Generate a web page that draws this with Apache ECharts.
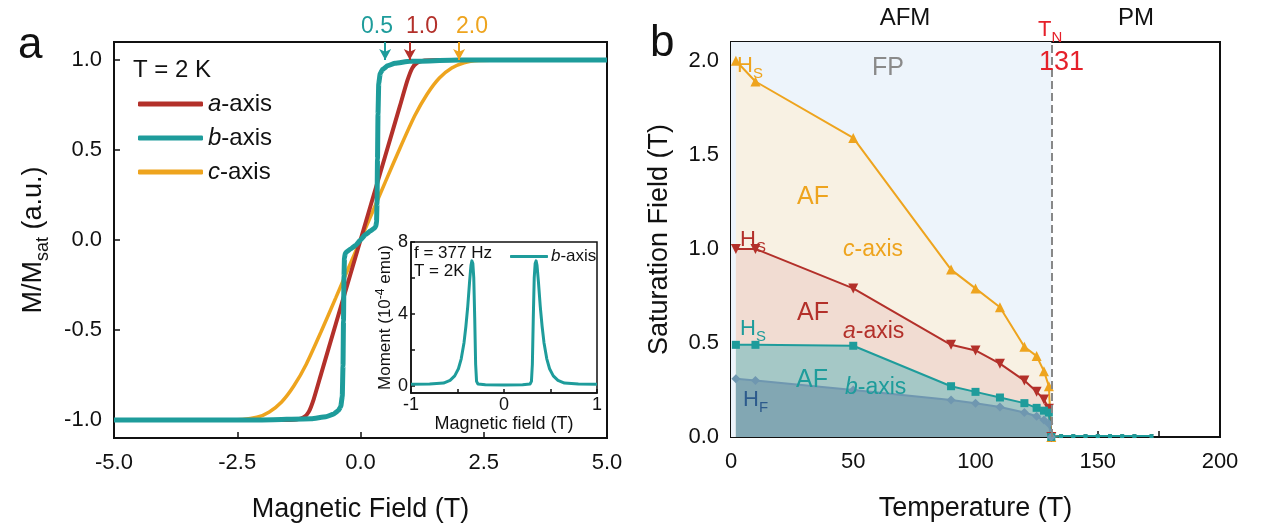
<!DOCTYPE html>
<html>
<head>
<meta charset="utf-8">
<script src="https://cdn.jsdelivr.net/npm/echarts@6/dist/echarts.min.js"></script>
<style>
  html, body { margin: 0; padding: 0; background: #fff; }
  #container { width: 1261px; height: 531px; }
</style>
</head>
<body>
<div id="container"></div>
<script>
var FONT = 'Arial, "Liberation Sans", sans-serif';
var RED = '#B3302A', TEAL = '#1E9C9B', ORANGE = '#EEA41E', HFBLUE = '#6F97B0';

// ---- panel a: M/Msat vs field, T = 2 K ----
var aAxisH = [-5, -3, -1.6, -1.3, -1.15, -1.05, -0.95, -0.8, -0.5, -0.2, 0, 0.2, 0.5, 0.8, 0.95, 1.05, 1.15, 1.3, 1.6, 3, 5];
var aAxisM = [-1, -1, -1, -0.997, -0.985, -0.955, -0.885, -0.745, -0.465, -0.186, 0, 0.186, 0.465, 0.745, 0.885, 0.955, 0.985, 0.997, 1, 1, 1];
var bAxisH = [-5, -2, -1, -0.7, -0.55, -0.45, -0.4, -0.37, -0.355, -0.345, -0.335, -0.325, -0.31, -0.28, -0.2, -0.1, 0, 0.1, 0.2, 0.28, 0.31, 0.325, 0.335, 0.345, 0.355, 0.37, 0.4, 0.45, 0.55, 0.7, 1, 2, 5];
var bAxisM = [-1, -1, -0.993, -0.982, -0.968, -0.948, -0.925, -0.87, -0.7, -0.45, -0.2, -0.1, -0.075, -0.065, -0.05, -0.03, 0, 0.03, 0.05, 0.065, 0.075, 0.1, 0.2, 0.45, 0.7, 0.87, 0.925, 0.948, 0.968, 0.982, 0.993, 1, 1];
var cAxisH = [-5, -3, -2.4, -2.1, -1.85, -1.6, -1.35, -1.1, -0.8, -0.5, -0.25, 0, 0.25, 0.5, 0.8, 1.1, 1.35, 1.6, 1.85, 2.1, 2.4, 3, 5];
var cAxisM = [-1, -1, -0.997, -0.985, -0.955, -0.9, -0.81, -0.69, -0.51, -0.32, -0.16, 0, 0.16, 0.32, 0.51, 0.69, 0.81, 0.9, 0.955, 0.985, 0.997, 1, 1];
var satFields = [0.5, 1.0, 2.0];   // arrows above panel a (b, a, c)

// inset: ac moment vs field, b-axis
var insetH = [-1, -0.8, -0.65, -0.58, -0.53, -0.49, -0.46, -0.43, -0.41, -0.39, -0.37, -0.355, -0.345, -0.335, -0.325, -0.315, -0.305, -0.295, -0.28, -0.2, 0, 0.2, 0.28, 0.295, 0.305, 0.315, 0.325, 0.335, 0.345, 0.355, 0.37, 0.39, 0.41, 0.43, 0.46, 0.49, 0.53, 0.58, 0.65, 0.8, 1];
var insetMoment = [0.08, 0.1, 0.15, 0.3, 0.55, 0.95, 1.5, 2.4, 3.3, 4.4, 5.8, 6.7, 6.95, 6.8, 6.0, 3.8, 1.2, 0.25, 0.1, 0.06, 0.05, 0.06, 0.1, 0.25, 1.2, 3.8, 6.0, 6.8, 6.95, 6.7, 5.8, 4.4, 3.3, 2.4, 1.5, 0.95, 0.55, 0.3, 0.15, 0.1, 0.08];

// ---- panel b: saturation field vs temperature ----
var TN = 131;
var temps = [2, 10, 50, 90, 100, 110, 120, 125, 128, 130, 131, 135, 140, 145, 150, 155, 160, 165, 172];
var cSat = [2.0, 1.89, 1.59, 0.89, 0.79, 0.69, 0.48, 0.43, 0.35, 0.27, 0, 0.005, 0.005, 0.005, 0.005, 0.005, 0.005, 0.005, 0.005];
var aSat = [1.0, 1.0, 0.79, 0.49, 0.46, 0.39, 0.30, 0.24, 0.20, 0.15, 0, 0.005, 0.005, 0.005, 0.005, 0.005, 0.005, 0.005, 0.005];
var bSat = [0.49, 0.49, 0.485, 0.27, 0.24, 0.21, 0.18, 0.155, 0.14, 0.13, 0, 0.005, 0.005, 0.005, 0.005, 0.005, 0.005, 0.005, 0.005];
var hfTemps = [2, 10, 50, 90, 100, 110, 120, 125, 128, 130, 131];
var hfField = [0.31, 0.30, 0.25, 0.197, 0.18, 0.16, 0.13, 0.11, 0.09, 0.07, 0];

// tick values
var aXTicks = [-5, -2.5, 0, 2.5, 5];
var aYTicks = [-1, -0.5, 0, 0.5, 1];
var bXTicks = [0, 25, 50, 75, 100, 125, 150, 175, 200];
var bXLabels = [0, 50, 100, 150, 200];
var bYTicks = [0, 0.25, 0.5, 0.75, 1, 1.25, 1.5, 1.75, 2];
var bYLabels = [0, 0.5, 1, 1.5, 2];
var inXTicks = [-1, -0.5, 0, 0.5, 1];
var inXLabels = [-1, 0, 1];
var inYTicks = [0, 2, 4, 6, 8];
var inYLabels = [0, 4, 8];

function pairs(xs, ys) {
    return xs.map(function (x, i) { return [x, ys[i]]; });
}

function txt(x, y, text, size, color, extra) {
    var style = { text: text, fontSize: size, fontFamily: FONT, fill: color, align: 'left', verticalAlign: 'middle' };
    if (extra) for (var k in extra) style[k] = extra[k];
    return { type: 'text', x: x, y: y, z: 100, style: style };
}

function subTxt(x, y, main, sub, size, color) {
    return txt(x, y, '{m|' + main + '}{s|' + sub + '}', size, color, {
        rich: {
            m: { fontSize: size, lineHeight: size * 1.4, fontFamily: FONT, fill: color },
            s: { fontSize: size * 0.68, lineHeight: size * 0.68, verticalAlign: 'bottom', fontFamily: FONT, fill: color }
        }
    });
}

function italTxt(x, y, letter, size, color) {
    return txt(x, y, '{i|' + letter + '}{n|-axis}', size, color, {
        rich: {
            i: { fontSize: size, fontStyle: 'italic', fontFamily: FONT, fill: color },
            n: { fontSize: size, fontFamily: FONT, fill: color }
        }
    });
}

function fixed1(v) { return Number(v).toFixed(1); }

// small markers after TN
function markSize(big) {
    return function (val) { return val[0] > TN ? 4 : big; };
}

function axisBase(gridIndex, min, max, ticks, labels, fmt, size, margin) {
    return {
        type: 'value', gridIndex: gridIndex, min: min, max: max,
        splitLine: { show: false },
        axisLine: { show: true, onZero: false, lineStyle: { color: '#111', width: 2 } },
        axisTick: { show: true, inside: true, length: 6, customValues: ticks, lineStyle: { color: '#111', width: 1.5 } },
        axisLabel: { customValues: labels, formatter: fmt, fontSize: size, fontFamily: FONT, color: '#111', margin: margin }
    };
}

function draw() {
    var dom = document.getElementById('container');
    var myChart = echarts.init(dom);

    var xA = axisBase(0, -5, 5, aXTicks, aXTicks, fixed1, 22, 14);
    xA.name = 'Magnetic Field (T)';
    xA.nameLocation = 'middle';
    xA.nameGap = 58;
    xA.nameTextStyle = { fontSize: 27, fontFamily: FONT, color: '#111' };

    var yA = axisBase(0, -1.1, 1.1, aYTicks, aYTicks, fixed1, 22, 12);
    yA.name = '{n|M/M}{s|sat}{n| (a.u.)}';
    yA.nameLocation = 'middle';
    yA.nameGap = 62;
    yA.nameTextStyle = {
        rich: {
            n: { fontSize: 27, lineHeight: 36, fontFamily: FONT, color: '#111' },
            s: { fontSize: 18, lineHeight: 18, verticalAlign: 'bottom', fontFamily: FONT, color: '#111' }
        }
    };

    var xB = axisBase(1, 0, 200, bXTicks, bXLabels, function (v) { return String(v); }, 22, 14);
    xB.name = 'Temperature (T)';
    xB.nameLocation = 'middle';
    xB.nameGap = 58;
    xB.nameTextStyle = { fontSize: 27, fontFamily: FONT, color: '#111' };

    var yB = axisBase(1, 0, 2.1, bYTicks, bYLabels, fixed1, 22, 12);
    yB.name = 'Saturation Field (T)';
    yB.nameLocation = 'middle';
    yB.nameGap = 58;
    yB.nameTextStyle = { fontSize: 27, fontFamily: FONT, color: '#111' };

    var xI = axisBase(2, -1, 1, inXTicks, inXLabels, function (v) { return String(v); }, 18, 3);
    xI.axisLine.lineStyle.width = 1.5;
    xI.axisTick.length = 4;
    xI.name = 'Magnetic field (T)';
    xI.nameLocation = 'middle';
    xI.nameGap = 20;
    xI.nameTextStyle = { fontSize: 18, fontFamily: FONT, color: '#111' };

    var yI = axisBase(2, -0.4, 8, inYTicks, inYLabels, function (v) { return String(v); }, 18, 3);
    yI.axisLine.lineStyle.width = 1.5;
    yI.axisTick.length = 4;
    yI.name = '{n|Moment (10}{p|-4}{n| emu)}';
    yI.nameLocation = 'middle';
    yI.nameGap = 13;
    yI.nameTextStyle = {
        rich: {
            n: { fontSize: 17, lineHeight: 22, fontFamily: FONT, color: '#111' },
            p: { fontSize: 12, lineHeight: 12, verticalAlign: 'top', fontFamily: FONT, color: '#111' }
        }
    };

    var arrowColors = [TEAL, RED, ORANGE];
    var arrows = satFields.map(function (h, i) {
        return [
            { coord: [h, 1.1], symbol: 'none', lineStyle: { color: arrowColors[i], width: 2, type: 'solid' } },
            { coord: [h, 1.0], symbol: 'arrow', symbolSize: [9, 11] }
        ];
    });

    var legendRich = function (size) {
        return {
            i: { fontSize: size, fontStyle: 'italic', fontFamily: FONT, color: '#111' },
            n: { fontSize: size, fontFamily: FONT, color: '#111' }
        };
    };
    var legendFmt = function (name) { return '{i|' + name.charAt(0) + '}{n|-axis}'; };

    var option = {
        animation: false,
        backgroundColor: '#fff',
        grid: [
            { left: 114, right: 654, top: 42, bottom: 93, show: true, borderColor: '#111', borderWidth: 2, backgroundColor: 'transparent' },
            { left: 731, right: 41, top: 42, bottom: 94, show: true, borderColor: '#111', borderWidth: 2, backgroundColor: 'transparent' },
            { left: 411, right: 664, top: 242, bottom: 138, show: true, borderColor: '#111', borderWidth: 1.5, backgroundColor: '#fff' }
        ],
        xAxis: [xA, xB, xI],
        yAxis: [yA, yB, yI],
        legend: [
            { data: ['a-axis', 'b-axis', 'c-axis'], orient: 'vertical', left: 133, top: 85,
              icon: 'roundRect', itemWidth: 65, itemHeight: 5, itemGap: 6, selectedMode: false,
              formatter: legendFmt, textStyle: { fontSize: 24, lineHeight: 28, rich: legendRich(24) } },
            { data: ['b-axis ac'], orient: 'horizontal', left: 505, top: 243,
              icon: 'roundRect', itemWidth: 38, itemHeight: 3, selectedMode: false, itemGap: 3,
              formatter: legendFmt, textStyle: { fontSize: 17, padding: [0, 0, 0, -2], rich: legendRich(17) } }
        ],
        graphic: [
            txt(18, 46, 'a', 44, '#111'),
            txt(650, 44, 'b', 44, '#111'),
            txt(377, 27, fixed1(satFields[0]), 23, TEAL, { align: 'center' }),
            txt(422, 27, fixed1(satFields[1]), 23, RED, { align: 'center' }),
            txt(472, 27, fixed1(satFields[2]), 23, ORANGE, { align: 'center' }),
            txt(133, 70, 'T = 2 K', 24, '#111'),
            txt(414, 253, 'f = 377 Hz', 17, '#111'),
            txt(414, 271, 'T = 2K', 17, '#111'),
            txt(905, 18, 'AFM', 24, '#111', { align: 'center' }),
            txt(1136, 18, 'PM', 24, '#111', { align: 'center' }),
            subTxt(1038, 30, 'T', 'N', 22, '#E5202A'),
            txt(1039, 63, '131', 27, '#E5202A'),
            subTxt(737, 66, 'H', 'S', 22, ORANGE),
            txt(872, 68, 'FP', 25, '#8A8A8A'),
            txt(797, 197, 'AF', 25, ORANGE),
            italTxt(843, 250, 'c', 23, ORANGE),
            subTxt(740, 240, 'H', 'S', 22, RED),
            txt(797, 313, 'AF', 25, RED),
            italTxt(843, 332, 'a', 23, RED),
            subTxt(740, 329, 'H', 'S', 22, TEAL),
            txt(796, 380, 'AF', 25, TEAL),
            italTxt(845, 388, 'b', 23, TEAL),
            subTxt(743, 400, 'H', 'F', 22, '#2C5A8C')
        ],
        series: [
            { name: 'c-axis', type: 'line', xAxisIndex: 0, yAxisIndex: 0, data: pairs(cAxisH, cAxisM),
              symbol: 'none', smooth: 0.2, clip: false, color: ORANGE, lineStyle: { color: ORANGE, width: 3.5 },
              markLine: { silent: true, animation: false, label: { show: false }, data: arrows } },
            { name: 'a-axis', type: 'line', xAxisIndex: 0, yAxisIndex: 0, data: pairs(aAxisH, aAxisM),
              symbol: 'none', smooth: 0.2, clip: false, color: RED, lineStyle: { color: RED, width: 4 } },
            { name: 'b-axis', type: 'line', xAxisIndex: 0, yAxisIndex: 0, data: pairs(bAxisH, bAxisM),
              symbol: 'none', smooth: 0.15, smoothMonotone: 'x', clip: false, color: TEAL, lineStyle: { color: TEAL, width: 5, join: 'round' } },

            { name: 'b-axis ac', type: 'line', xAxisIndex: 2, yAxisIndex: 2, data: pairs(insetH, insetMoment),
              symbol: 'none', color: TEAL, lineStyle: { color: TEAL, width: 3, join: 'round' }, z: 5 },

            { name: 'Hs c', type: 'line', xAxisIndex: 1, yAxisIndex: 1, data: pairs(temps, cSat),
              symbol: 'triangle', symbolSize: markSize(10), color: ORANGE, lineStyle: { color: ORANGE, width: 2 },
              areaStyle: { color: '#F8F1E3', opacity: 1 },
              markArea: { silent: true, itemStyle: { color: '#EDF4FB' }, data: [[{ xAxis: 0 }, { xAxis: TN }]] },
              markLine: { silent: true, symbol: 'none', label: { show: false },
                          lineStyle: { color: '#888', type: 'dashed', width: 2 }, data: [{ xAxis: TN }] } },
            { name: 'Hs a', type: 'line', xAxisIndex: 1, yAxisIndex: 1, data: pairs(temps, aSat),
              symbol: 'triangle', symbolRotate: 180, symbolSize: markSize(10), color: RED, lineStyle: { color: RED, width: 2 },
              areaStyle: { color: '#F1DCD2', opacity: 1 } },
            { name: 'Hs b', type: 'line', xAxisIndex: 1, yAxisIndex: 1, data: pairs(temps, bSat),
              symbol: 'rect', symbolSize: markSize(8), color: TEAL, lineStyle: { color: TEAL, width: 2 },
              areaStyle: { color: '#A5C8C6', opacity: 1 } },
            { name: 'Hf b', type: 'line', xAxisIndex: 1, yAxisIndex: 1, data: pairs(hfTemps, hfField),
              symbol: 'diamond', symbolSize: 9, color: HFBLUE, lineStyle: { color: HFBLUE, width: 2 },
              areaStyle: { color: '#82A7B3', opacity: 1 } }
        ]
    };
    myChart.setOption(option, true);
}

draw();
</script>
</body>
</html>
